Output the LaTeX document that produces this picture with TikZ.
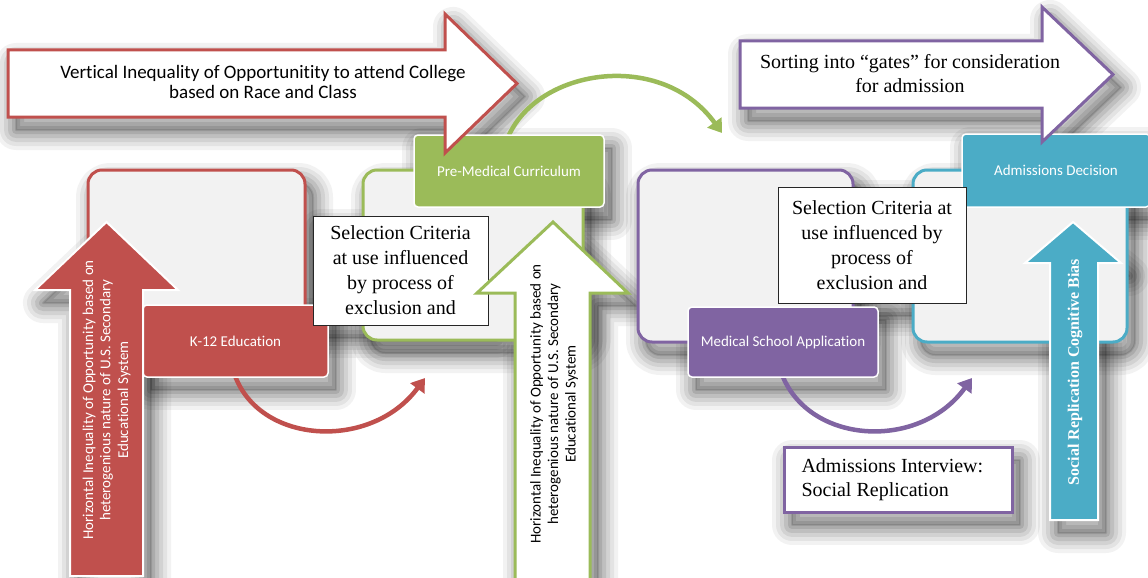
\documentclass[tikz,border=0pt]{standalone}
\usepackage{fontspec}
\setmainfont{Liberation Serif}
\newfontfamily\calfont[Ligatures=CommonOff]{Carlito}
\usetikzlibrary{arrows.meta}

\definecolor{cred}{HTML}{C0504D}
\definecolor{cgreen}{HTML}{9BBB59}
\definecolor{cpurple}{HTML}{8064A2}
\definecolor{cblue}{HTML}{4BACC6}
\definecolor{panel}{HTML}{F2F2F2}

\pgfdeclarelayer{back}
\pgfdeclarelayer{shadowlayer}
\pgfdeclarelayer{curvelayer}
\pgfsetlayers{back,shadowlayer,curvelayer,main}

% soft drop shadow: the outline is stroked several times with growing width
\newcommand\softshadow[1]{%
  \begin{pgfonlayer}{shadowlayer}
    \foreach \w/\o in {40/0.05,32/0.06,24/0.07,16/0.09,8/0.1,2/0.1}{
      \draw[shift={(8,13)}, black, draw opacity=\o, line width=\w pt, line join=round] #1;
    }
    \fill[shift={(8,13)}, black, fill opacity=0.12] #1;
  \end{pgfonlayer}}

\tikzset{
  panelbox/.style={draw=#1, line width=3pt, fill=panel, rounded corners=14pt,
      outer sep=0pt, inner sep=0pt},
  tagbox/.style={fill=#1, draw=white, line width=1.5pt, rounded corners=4pt,
      text=white, font=\calfont\fontsize{15}{18}\selectfont,
      outer sep=0pt, inner sep=0pt},
  critbox/.style={draw=black!85, line width=1pt, fill=white, align=center,
      font=\fontsize{20}{25}\selectfont, outer sep=0pt, inner sep=0pt},
  flowcurve/.style={line width=4.5pt, draw=#1,
      -{Triangle[width=17pt,length=13pt]}},
  blockarrow/.style={fill=white, draw=#1, line width=3pt, line join=miter},
  uparrow/.style={fill=#1, draw=white, line width=2pt, line join=miter},
  sidetext/.style={rotate=90, align=center, font=\calfont\fontsize{15}{17.5}\selectfont},
}

\begin{document}
\begin{tikzpicture}[x=1pt,y=-1pt]
\useasboundingbox (0,0) rectangle (1148,578);
\begin{pgfonlayer}{back}
  \fill[white] (0,0) rectangle (1148,578);
\end{pgfonlayer}

% ---- shadows
\softshadow{[rounded corners=14pt] (88,170) rectangle (305,342)}
\softshadow{[rounded corners=14pt] (363,170) rectangle (583,340)}
\softshadow{[rounded corners=14pt] (638,170) rectangle (853,342)}
\softshadow{[rounded corners=14pt] (913,170) rectangle (1127,342)}
\softshadow{(143,305) rectangle (328,377)}
\softshadow{(414,135) rectangle (604,207)}
\softshadow{(688,307) rectangle (878,377)}
\softshadow{(962,134) rectangle (1150,207)}
\softshadow{(313,216) rectangle (488,325)}
\softshadow{(778,187) rectangle (966,303)}
\softshadow{(784,447) rectangle (1012,512)}
\softshadow{(70,590) -- (70,290) -- (35,290) -- (106.5,222) -- (178,290) -- (143,290) -- (143,590) -- cycle}
\softshadow{(515,590) -- (515,293) -- (477,293) -- (553,222) -- (628,293) -- (590,293) -- (590,590) -- cycle}
\softshadow{(1050,520) -- (1050,263) -- (1025,263) -- (1073,222) -- (1121,263) -- (1098,263) -- (1098,520) -- cycle}
\softshadow{(8,50) -- (445,50) -- (445,14) -- (517,83.5) -- (445,153) -- (445,117) -- (8,117) -- cycle}
\softshadow{(740,41) -- (1042,41) -- (1042,7) -- (1113,74.5) -- (1042,142) -- (1042,108) -- (740,108) -- cycle}

% ---- stage panels
\node[panelbox=cred, minimum width=217pt, minimum height=172pt, anchor=north west] (k12panel) at (88,170) {};
\node[panelbox=cgreen, minimum width=220pt, minimum height=170pt, anchor=north west] (medpanel) at (363,170) {};
\node[panelbox=cpurple, minimum width=215pt, minimum height=172pt, anchor=north west] (apppanel) at (638,170) {};
\node[panelbox=cblue, minimum width=214pt, minimum height=172pt, anchor=north west] (decpanel) at (913,170) {};

% ---- stage labels
\node[tagbox=cred, minimum width=185pt, minimum height=72pt, anchor=north west] (k12) at (143,305) {K-12 Education};
\node[tagbox=cgreen, minimum width=190pt, minimum height=72pt, anchor=north west] (premed) at (414,135) {Pre-Medical Curriculum};
\node[tagbox=cpurple, minimum width=190pt, minimum height=70pt, anchor=north west] (medapp) at (688,307) {Medical School Application};
\node[tagbox=cblue, minimum width=188pt, minimum height=73pt, anchor=north west] (decision) at (962,134) {Admissions Decision};

% free ends of the curved connectors
\coordinate (k12end) at (425,378);
\coordinate (premedend) at (722,133);
\coordinate (medappend) at (972,378);

% ---- curved connectors, kept behind the boxes
\begin{pgfonlayer}{curvelayer}
  \draw[flowcurve=cred] (k12.south) .. controls (262,445) and (372,450) .. (k12end);
  \draw[flowcurve=cgreen] (premed.north) .. controls (540,68) and (662,50) .. (premedend);
  \draw[flowcurve=cpurple] (medapp.south) .. controls (812,445) and (920,450) .. (medappend);
\end{pgfonlayer}

% ---- selection criteria notes
\node[critbox, minimum width=175pt, minimum height=109pt, anchor=north west] (critA) at (313,216)
  {Selection Criteria\\at use influenced\\by process of\\exclusion and};
\node[critbox, minimum width=188pt, minimum height=116pt, anchor=north west] (critB) at (778,187)
  {Selection Criteria at\\use influenced by\\process of\\exclusion and};

% ---- interview note
\node[draw=cpurple, line width=3pt, fill=white, outer sep=0pt, inner sep=0pt,
      minimum width=228pt, minimum height=65pt, anchor=north west] (interview) at (784,447) {};
\node[anchor=west, align=left, font=\fontsize{20}{24}\selectfont] (interviewtext) at (798,480)
  {Admissions Interview:\\Social Replication};

% ---- vertical inequality arrows
\draw[uparrow=cred] (70,576) -- (70,290) -- (35,290) -- (106.5,222) -- (178,290)
  -- (143,290) -- (143,576) -- cycle;
\node[sidetext, text=white] (redtext) at (106.5,400)
  {Horizontal Inequality of Opportunity based on\\heterogenious nature of U.S. Secondary\\Educational System};

\draw[fill=white, draw=cgreen, line width=3pt, line join=miter]
  (515,590) -- (515,293) -- (477,293) -- (553,222) -- (628,293) -- (590,293) -- (590,590);
\node[sidetext, text=black] (greentext) at (554,404)
  {Horizontal Inequality of Opportunity based on\\heterogenious nature of U.S. Secondary\\Educational System};

\draw[uparrow=cblue] (1050,520) -- (1050,263) -- (1025,263) -- (1073,222) -- (1121,263)
  -- (1098,263) -- (1098,520) -- cycle;
\node[rotate=90, text=white, font=\bfseries\fontsize{16}{19}\selectfont] (bluetext) at (1075,372)
  {Social Replication Cognitive Bias};

% ---- horizontal arrows across the top
\draw[blockarrow=cred] (8,50) -- (445,50) -- (445,14) -- (517,83.5) -- (445,153)
  -- (445,117) -- (8,117) -- cycle;
\node[align=center, font=\calfont\fontsize{19}{20}\selectfont] (verttext) at (263,82)
  {Vertical Inequality of Opportunitity to attend College\\based on Race and Class};

\draw[blockarrow=cpurple] (740,41) -- (1042,41) -- (1042,7) -- (1113,74.5) -- (1042,142)
  -- (1042,108) -- (740,108) -- cycle;
\node[align=center, font=\fontsize{20}{24}\selectfont] (sorttext) at (910,74)
  {Sorting into “gates” for consideration\\for admission};
\end{tikzpicture}
\end{document}
